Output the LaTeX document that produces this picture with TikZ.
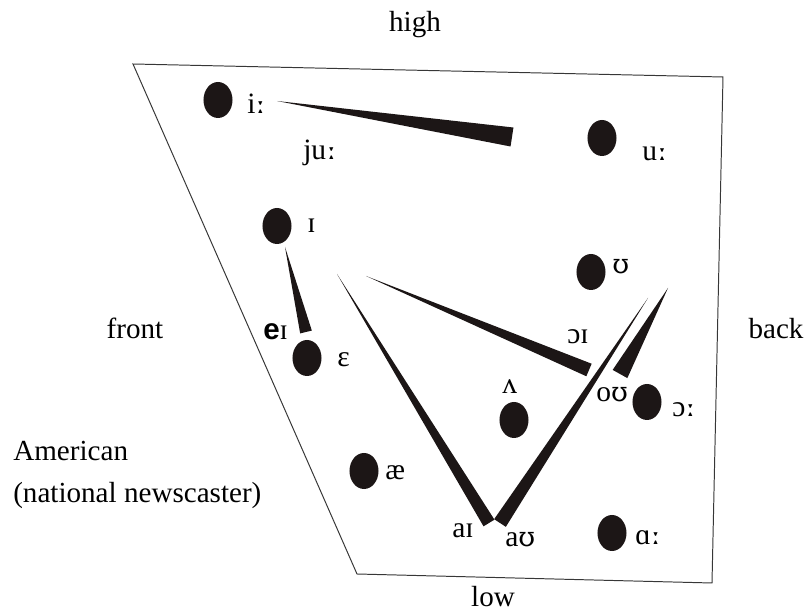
\documentclass[tikz,border=0pt]{standalone}
\usepackage{fontspec}
\setmainfont{Liberation Serif}
\newfontfamily\sansbold{Liberation Sans}
\newfontfamily\ipaglyph[Scale=0.92]{DejaVu Serif}
\usetikzlibrary{shapes.geometric, calc}
\definecolor{vowelink}{RGB}{28,22,22}
\definecolor{chartline}{RGB}{55,55,55}

% tapered trajectory: thin at #1, flat end of half width #3 at #2
\newcommand{\diphthong}[3]{%
  \fill[glide] (#1) -- ($(#2)!#3!90:(#1)$) -- ($(#2)!#3!-90:(#1)$) -- cycle;}
% length mark and horseshoe as the reference draws them
\newcommand{\lng}{{\ipaglyph\bfseries ː}}
\newcommand{\hsu}{{\ipaglyph ʊ}}

\begin{document}
\begin{tikzpicture}[x=0.025cm, y=-0.025cm,
    vdot/.style={ellipse, fill=vowelink, minimum width=0.725cm,
                 minimum height=0.9cm, inner sep=0pt},
    ipa/.style={font=\fontsize{21}{21.3}\selectfont, inner sep=0pt,
                anchor=base west},
    axislabel/.style={font=\fontsize{20.7}{21.3}\selectfont, inner sep=0pt,
                      anchor=base},
    glide/.style={fill=vowelink},
    chart/.style={draw=chartline, line width=0.7pt, line join=miter},
]
\useasboundingbox (0,0) rectangle (805,615);

% ======================================================
% Vowel space: skewed quadrilateral
% ======================================================
\coordinate (tl) at (133,64);
\coordinate (tr) at (723,77);
\coordinate (br) at (712,583);
\coordinate (bl) at (357,574);
\draw[chart] (tl) -- (tr) -- (br) -- (bl) -- cycle;

% axis labels
\node[axislabel] (high)  at (415,32)  {high};
\node[axislabel] (low)   at (493,607) {low};
\node[axislabel] (front) at (135,339) {front};
\node[axislabel] (back)  at (776,339) {back};
\node[font=\fontsize{20.7}{30}\selectfont, inner sep=0pt, anchor=base west,
      align=left] (accent) at (13,503)
     {American\\(national newscaster)};

% ======================================================
% Monophthongs: dots
% ======================================================
\foreach \n/\x/\y in {iy/218/100, uw/602/138, ih/277/226, eh/307/358,
                      uh/591/272, ah/514/420, ao/647/402, ae/364/471,
                      aa/612/533} {
    \node[vdot] (\n) at (\x,\y) {};
}

% vowel symbols
\foreach \n/\x/\y/\t in {iy/247/114/i\lng, uw/642/161/u\lng, ih/307/233/ɪ,
                         eh/337/367/ɛ, uh/612/274/\hsu, ah/502/394/ʌ,
                         ao/672/417/ɔ\lng, ae/385/480/æ, aa/635/545/ɑ\lng} {
    \node[ipa] (lab\n) at (\x,\y) {\t};
}

% ======================================================
% Diphthongs: tapered glides and their labels
% ======================================================
\coordinate (juS) at (277,101);  \coordinate (juE) at (512,137);
\coordinate (eyS) at (285,247);  \coordinate (eyE) at (306,332);
\coordinate (ayS) at (337,274);  \coordinate (ayE) at (489,523);
\coordinate (awS) at (648,298);  \coordinate (awE) at (500,523);
\coordinate (oyS) at (366,276);  \coordinate (oyE) at (589,370);
\coordinate (owS) at (668,288);  \coordinate (owE) at (620,374);

\diphthong{juS}{juE}{0.24cm}
\diphthong{eyS}{eyE}{0.15cm}
\diphthong{ayS}{ayE}{0.16cm}
\diphthong{awS}{awE}{0.175cm}
\diphthong{oyS}{oyE}{0.17cm}
\diphthong{owS}{owE}{0.21cm}

\node[ipa] (labjuw) at (303,160) {ju\lng};
\node[ipa] (labey)  at (263,340) {{\sansbold\bfseries e}ɪ};
\node[ipa] (laboy)  at (567,344) {ɔɪ};
\node[ipa] (labow)  at (596,402) {o\hsu};
\node[ipa] (labay)  at (452,538) {aɪ};
\node[ipa] (labaw)  at (505,547) {a\hsu};

\end{tikzpicture}
\end{document}
